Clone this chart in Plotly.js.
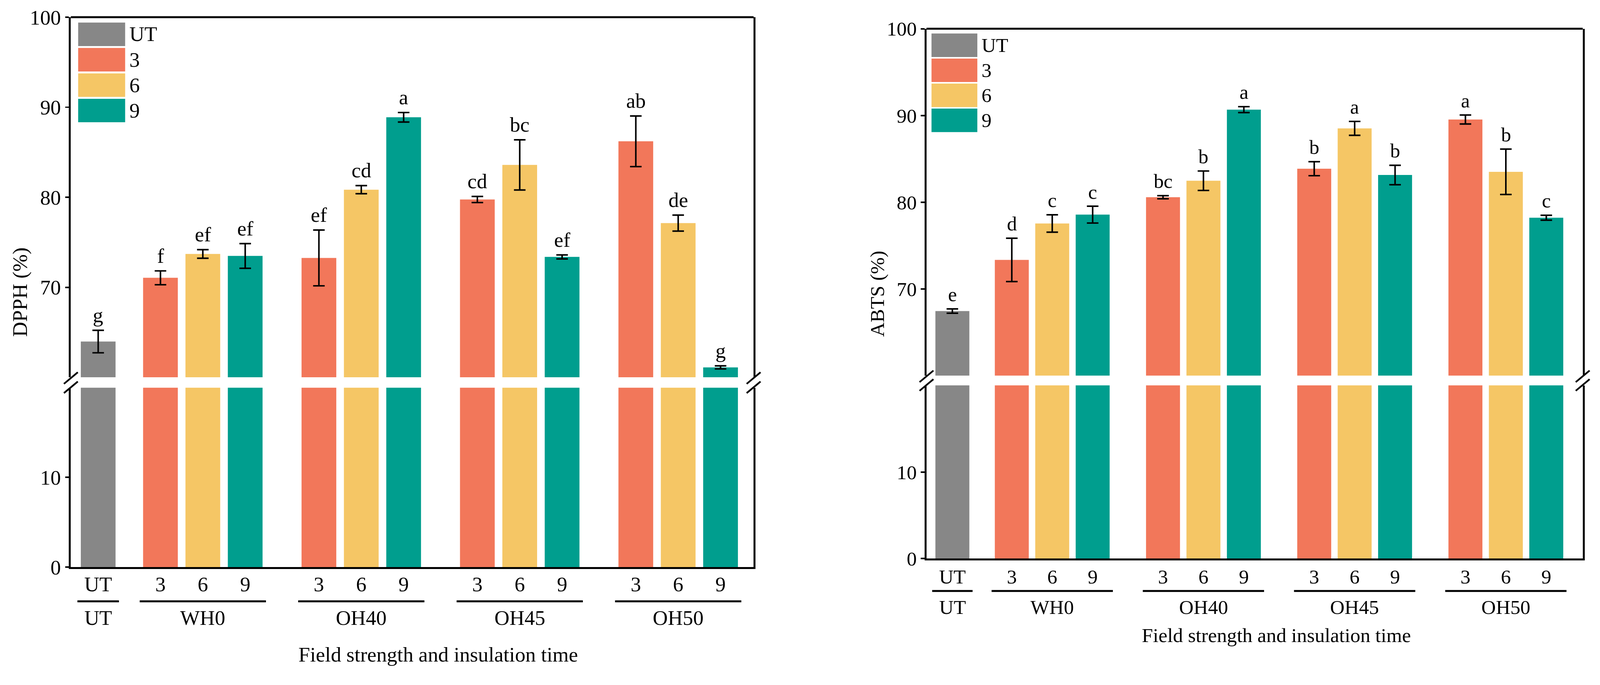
<!DOCTYPE html>
<html>
<head>
<meta charset="utf-8">
<script src="https://cdn.plot.ly/plotly-3.0.1.min.js"></script>
<style>html,body{margin:0;padding:0;background:#fff;overflow:hidden;}#chart{width:4155px;height:1754px;transform-origin:0 0;}</style>
</head>
<body>
<div id="chart"></div>
<script>
// ---------------- DATA ----------------
const seriesNames = ['UT', '3', '6', '9'];
const groups = ['WH0', 'OH40', 'OH45', 'OH50'];
const timeLabels = ['3', '6', '9'];

// DPPH (%)
const dpphUT = [63.97];
const dpphUTErr = [1.25];
const dpphUTSig = ['g'];
const dpph3 = [71.05, 73.26, 79.75, 86.21];
const dpph3Err = [0.77, 3.10, 0.34, 2.81];
const dpph3Sig = ['f', 'ef', 'cd', 'ab'];
const dpph6 = [73.70, 80.84, 83.59, 77.13];
const dpph6Err = [0.48, 0.45, 2.79, 0.89];
const dpph6Sig = ['ef', 'cd', 'bc', 'de'];
const dpph9 = [73.48, 88.88, 73.37, 61.10];
const dpph9Err = [1.37, 0.53, 0.22, 0.17];
const dpph9Sig = ['ef', 'a', 'ef', 'g'];

// ABTS (%)
const abtsUT = [67.44];
const abtsUTErr = [0.25];
const abtsUTSig = ['e'];
const abts3 = [73.34, 80.57, 83.86, 89.53];
const abts3Err = [2.50, 0.18, 0.81, 0.52];
const abts3Sig = ['d', 'bc', 'b', 'a'];
const abts6 = [77.54, 82.47, 88.51, 83.50];
const abts6Err = [1.00, 1.12, 0.80, 2.62];
const abts6Sig = ['c', 'b', 'a', 'b'];
const abts9 = [78.56, 90.67, 83.13, 78.20];
const abts9Err = [0.97, 0.34, 1.12, 0.28];
const abts9Sig = ['c', 'a', 'b', 'c'];

const colors = ['#878787', '#F2775A', '#F5C665', '#009E8E'];

// ---------------- LAYOUT HELPERS ----------------
const W = 4155, H = 1754;
const UT_GAP = 1.47, GROUP_STEP = 3.74;
function pos(g, s) { return g < 0 ? 0 : UT_GAP + g * GROUP_STEP + s; }
const utPos = [pos(-1, 0)];
const subPos = timeLabels.map((t, s) => groups.map((g, gi) => pos(gi, s)));

const FONT = 'Liberation Serif, Times New Roman, serif';
const traces = [];
const shapes = [];
const annotations = [];
const layout = {
  width: W, height: H, autosize: false,
  margin: {l: 0, r: 0, t: 0, b: 0, pad: 0},
  paper_bgcolor: '#fff', plot_bgcolor: '#fff',
  showlegend: false, barmode: 'overlay',
  font: {family: FONT, color: '#000'}
};

function buildChart(c) {
  const vals = [c.ut, c.s3, c.s6, c.s9];
  const errs = [c.utErr, c.s3Err, c.s6Err, c.s9Err];
  const sigs = [c.utSig, c.s3Sig, c.s6Sig, c.s9Sig];
  const xs = [utPos, subPos[0], subPos[1], subPos[2]];
  const xa = c.xa, yu = c.yu, yl = c.yl;
  const xk = 'xaxis' + (xa === 'x' ? '' : xa.slice(1));
  const yuk = 'yaxis' + (yu === 'y' ? '' : yu.slice(1));
  const ylk = 'yaxis' + yl.slice(1);

  for (let k = 0; k < 4; k++) {
    traces.push({type: 'bar', x: xs[k], y: vals[k], width: c.barW, xaxis: xa, yaxis: yu,
      marker: {color: colors[k], line: {width: 0}}, hoverinfo: 'skip',
      error_y: {type: 'data', array: errs[k], visible: true, color: '#000', thickness: 4, width: 15}});
    traces.push({type: 'bar', x: xs[k], y: vals[k], width: c.barW, xaxis: xa, yaxis: yl,
      marker: {color: colors[k], line: {width: 0}}, hoverinfo: 'skip'});
    xs[k].forEach((xv, i) => {
      annotations.push({xref: xa, yref: yu, x: xv, y: vals[k][i] + errs[k][i], text: sigs[k][i],
        showarrow: false, yanchor: 'bottom', yshift: 7, font: {family: FONT, size: c.fs, color: '#000'}});
    });
  }

  const tickvals = [].concat(utPos, ...groups.map((g, gi) => timeLabels.map((t, s) => pos(gi, s))));
  const ticktext = [].concat(['UT'], ...groups.map(() => timeLabels));

  layout[xk] = {domain: c.xdom, range: c.xrange, anchor: yl, showline: true, linewidth: 5, linecolor: '#000',
    showgrid: false, zeroline: false, ticks: '', tickvals: tickvals, ticktext: ticktext,
    tickfont: {family: FONT, size: c.fs, color: '#000'}, ticklabelstandoff: c.xstand, fixedrange: true};
  const yCommon = {anchor: xa, showline: true, mirror: true, linewidth: 5, linecolor: '#000', showgrid: false,
    zeroline: false, ticks: 'outside', ticklen: 10, tickwidth: 4, tickcolor: '#000',
    tickfont: {family: FONT, size: c.fs, color: '#000'}, fixedrange: true};
  layout[yuk] = Object.assign({}, yCommon, {domain: c.ydomU, range: [60, 100], tickvals: [70, 80, 90, 100]});
  layout[ylk] = Object.assign({}, yCommon, {domain: c.ydomL, range: [0, 20], tickvals: [0, 10]});

  shapes.push({type: 'line', xref: xa + ' domain', yref: yu + ' domain', x0: 0, x1: 1, y0: 1, y1: 1,
    line: {color: '#000', width: 5}});
  [0, 1].forEach(xd => {
    [[yu, 0, -2], [yl, 1, 1]].forEach(([ya, yd, off]) => {
      shapes.push({type: 'line', xref: xa + ' domain', yref: ya + ' domain', xsizemode: 'pixel', ysizemode: 'pixel',
        xanchor: xd, yanchor: yd, x0: -18, x1: 18, y0: off - 15, y1: off + 15, line: {color: '#000', width: 4.5}});
    });
  });
  seriesNames.forEach((n, i) => {
    const top = -c.legTop - c.legStep * i;
    shapes.push({type: 'rect', xref: xa + ' domain', yref: yu + ' domain', xsizemode: 'pixel', ysizemode: 'pixel',
      xanchor: 0, yanchor: 1, x0: c.legX0, x1: c.legX1, y0: top, y1: top - c.legH,
      fillcolor: colors[i], line: {width: 0}});
    annotations.push({xref: xa + ' domain', yref: yu + ' domain', x: 0, y: 1, xanchor: 'left', yanchor: 'middle',
      xshift: c.legText, yshift: top - c.legH / 2, text: n, showarrow: false,
      font: {family: FONT, size: c.fs, color: '#000'}});
  });
  const half = c.barW / 2 + 0.08;
  const grpSpans = [[utPos[0], utPos[0], 'UT']].concat(groups.map((g, gi) => [pos(gi, 0), pos(gi, 2), g]));
  grpSpans.forEach(([a, b, name]) => {
    shapes.push({type: 'line', xref: xa, yref: yl + ' domain', ysizemode: 'pixel', yanchor: 0,
      x0: a - half, x1: b + half, y0: -c.ulOff, y1: -c.ulOff, line: {color: '#000', width: 5}});
    annotations.push({xref: xa, yref: yl + ' domain', x: (a + b) / 2, y: 0, yanchor: 'middle', yshift: -c.grpOff,
      text: name, showarrow: false, font: {family: FONT, size: c.fs, color: '#000'}});
  });
  annotations.push({xref: 'paper', yref: 'paper', x: c.yTitleX, y: c.yTitleY, xanchor: 'center', yanchor: 'middle',
    textangle: -90, text: c.yTitle, showarrow: false, font: {family: FONT, size: c.fs, color: '#000'}});
  annotations.push({xref: 'paper', yref: yl + ' domain', x: c.xTitleX, y: 0, xanchor: 'center', yanchor: 'middle',
    yshift: -c.xTitleOff, text: 'Field strength and insulation time', showarrow: false,
    font: {family: FONT, size: c.fs, color: '#000'}});
}

buildChart({
  ut: dpphUT, utErr: dpphUTErr, utSig: dpphUTSig,
  s3: dpph3, s3Err: dpph3Err, s3Sig: dpph3Sig,
  s6: dpph6, s6Err: dpph6Err, s6Sig: dpph6Sig,
  s9: dpph9, s9Err: dpph9Err, s9Sig: dpph9Sig,
  xa: 'x', yu: 'y', yl: 'y2',
  xdom: [184 / W, 1957 / W], xrange: [-0.645, 15.47],
  ydomU: [1 - 980 / H, 1 - 44.6 / H], ydomL: [1 - 1473 / H, 1 - 1007 / H],
  barW: 0.82, fs: 54, xstand: -7,
  legTop: 14, legStep: 66, legH: 61, legX0: 19, legX1: 141, legText: 150,
  ulOff: 89, grpOff: 132, xTitleOff: 227, xTitleX: 1138 / W,
  yTitle: 'DPPH (%)', yTitleX: 52 / W, yTitleY: 1 - 759 / H
});
buildChart({
  ut: abtsUT, utErr: abtsUTErr, utSig: abtsUTSig,
  s3: abts3, s3Err: abts3Err, s3Sig: abts3Sig,
  s6: abts6, s6Err: abts6Err, s6Sig: abts6Sig,
  s9: abts9, s9Err: abts9Err, s9Sig: abts9Sig,
  xa: 'x2', yu: 'y3', yl: 'y4',
  xdom: [2406 / W, 4110 / W], xrange: [-0.64, 15.59],
  ydomU: [1 - 975.5 / H, 1 - 74.6 / H], ydomL: [1 - 1451 / H, 1 - 1001 / H],
  barW: 0.84, fs: 52, xstand: -3,
  legTop: 12.5, legStep: 65, legH: 61, legX0: 13, legX1: 132, legText: 141,
  ulOff: 84, grpOff: 126, xTitleOff: 199, xTitleX: 3314 / W,
  yTitle: 'ABTS (%)', yTitleX: 2279 / W, yTitleY: 1 - 763 / H
});

layout.shapes = shapes;
layout.annotations = annotations;

// fit the fixed-size figure into the actual viewport
const vw = window.innerWidth || W, vh = window.innerHeight || H;
const sc = Math.min(vw / W, vh / H);
if (Math.abs(sc - 1) > 0.001) document.getElementById('chart').style.transform = 'scale(' + sc + ')';

Plotly.newPlot('chart', traces, layout, {displayModeBar: false, staticPlot: true});
</script>
</body>
</html>
